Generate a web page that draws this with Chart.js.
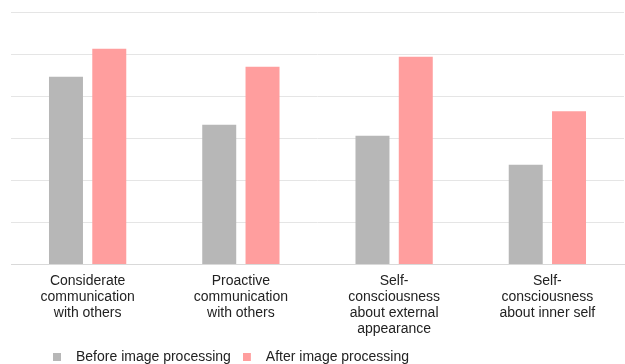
<!DOCTYPE html>
<html>
<head>
<meta charset="utf-8">
<script src="https://cdn.jsdelivr.net/npm/chart.js@4"></script>
<style>
  html, body { margin: 0; padding: 0; background: #ffffff; }
  #wrap { width: 625px; height: 364px; position: relative; }
</style>
</head>
<body>
<div id="wrap"><canvas id="c"></canvas></div>
<script>
const categories = [
  ["Considerate", "communication", "with others"],
  ["Proactive", "communication", "with others"],
  ["Self-", "consciousness", "about external", "appearance"],
  ["Self-", "consciousness", "about inner self"]
];
const seriesNames = ["Before image processing", "After image processing"];
const beforeValues = [4.46, 3.32, 3.06, 2.37];
const afterValues = [5.13, 4.70, 4.94, 3.64];
const seriesColors = ["#b7b7b7", "#ff9e9e"];

function legendSwatch(color) {
  const cv = document.createElement('canvas');
  cv.width = 16; cv.height = 8;
  const g = cv.getContext('2d');
  g.fillStyle = color;
  g.fillRect(0, 0, 8, 8);
  return cv;
}
const swatches = seriesColors.map(c => legendSwatch(c));

const legendPlacer = {
  id: 'legendPlacer',
  afterLayout(chart) {
    const lg = chart.legend;
    if (!lg) return;
    const dx = 41 - lg.left;
    const dy = 338 - lg.top;
    lg.left += dx; lg.right += dx;
    lg.top += dy; lg.bottom += dy;
  }
};

Chart.defaults.font.family = "'Liberation Sans', Arial, sans-serif";

new Chart(document.getElementById('c'), {
  type: 'bar',
  data: {
    labels: categories,
    datasets: [
      { label: seriesNames[0], data: beforeValues, backgroundColor: seriesColors[0] },
      { label: seriesNames[1], data: afterValues, backgroundColor: seriesColors[1] }
    ]
  },
  options: {
    responsive: true,
    maintainAspectRatio: false,
    animation: false,
    datasets: { bar: { categoryPercentage: 0.565, barPercentage: 0.785 } },
    layout: { padding: { top: 12, left: 11, right: 1, bottom: -17 } },
    scales: {
      x: {
        grid: { display: false, drawTicks: false },
        border: { display: true, color: '#d9d9d9', width: 1 },
        ticks: {
          padding: 8,
          color: '#222222',
          maxRotation: 0,
          autoSkip: false,
          font: { size: 14, lineHeight: 1.15 }
        }
      },
      y: {
        min: 0,
        max: 6,
        ticks: { display: false, stepSize: 1 },
        grid: { color: '#e5e5e5', drawTicks: false },
        border: { display: false }
      }
    },
    plugins: {
      legend: {
        position: 'bottom',
        align: 'start',
        labels: {
          usePointStyle: true,
          pointStyleWidth: 16,
          boxHeight: 8,
          padding: 12,
          color: '#222222',
          font: { size: 14 },
          generateLabels(chart) {
            const items = Chart.defaults.plugins.legend.labels.generateLabels(chart);
            items.forEach((it, i) => { it.pointStyle = swatches[i]; });
            return items;
          }
        }
      },
      tooltip: { enabled: false }
    }
  },
  plugins: [legendPlacer]
});
</script>
</body>
</html>
